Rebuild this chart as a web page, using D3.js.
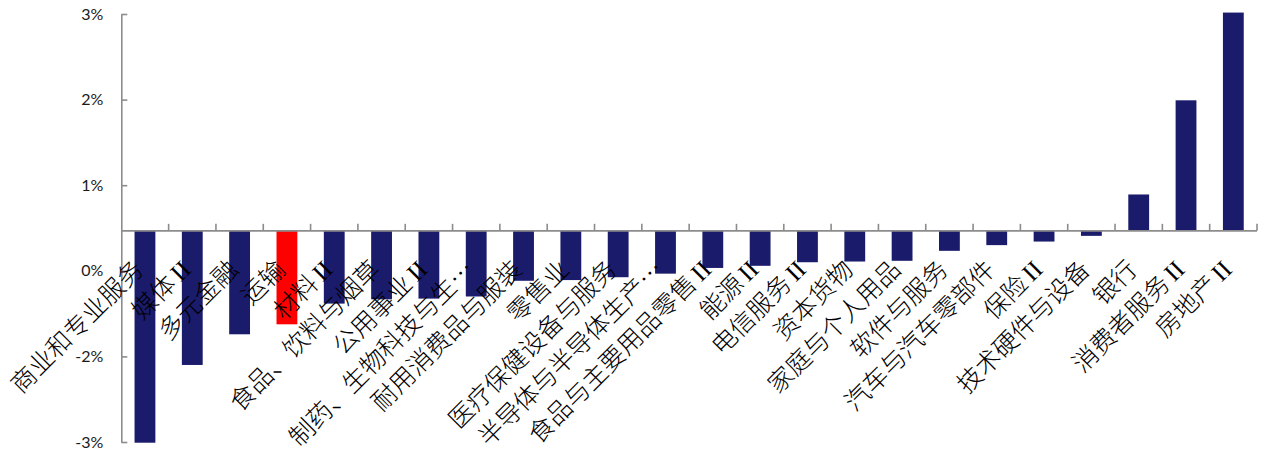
<!DOCTYPE html>
<html>
<head>
<meta charset="utf-8">
<script src="https://cdn.jsdelivr.net/npm/d3@7"></script>
<style>
  html, body { margin: 0; padding: 0; background: #fff; }
  svg { display: block; }
</style>
</head>
<body>
<svg id="chart" width="1265" height="456"></svg>
<script>
const categories = [
  "商业和专业服务", "媒体 II", "多元金融", "运输", "材料 II", "食品、饮料与烟草",
  "公用事业 II", "制药、生物科技与生…", "耐用消费品与服装", "零售业", "医疗保健设备与服务",
  "半导体与半导体生产…", "食品与主要用品零售 II", "能源 II", "电信服务 II", "资本货物",
  "家庭与个人用品", "软件与服务", "汽车与汽车零部件", "保险 II", "技术硬件与设备",
  "银行", "消费者服务 II", "房地产 II"
];
const values = [
  -2.97, -1.88, -1.45, -1.31, -1.02, -0.96,
  -0.95, -0.92, -0.70, -0.69, -0.65,
  -0.60, -0.52, -0.49, -0.44, -0.43,
  -0.42, -0.28, -0.20, -0.15, -0.07,
  0.51, 1.83, 3.06
];
const highlighted = ["运输"];
const yDomain = [-2.96, 3.04];
const yTickValues = [3.04, 1.84, 0.64, -0.56, -1.76, -2.96];
const yTickLabels = ["3%", "2%", "1%", "0%", "-2%", "-3%"];

(function () {
const svg = d3.select("#chart");
const pLeft = 121.3, pRight = 1257, pTop = 14, pBottom = 442;

const x = d3.scaleBand().domain(categories).range([pLeft, pRight])
  .paddingInner(0.56).paddingOuter(0.28);
const y = d3.scaleLinear().domain(yDomain).range([pBottom, pTop]);

const axisColor = "#8c8c8c";

// bars
svg.append("g").selectAll("rect").data(categories).join("rect")
  .attr("x", d => x(d))
  .attr("width", x.bandwidth())
  .attr("y", (d, i) => Math.min(y(values[i]), y(0)))
  .attr("height", (d, i) => Math.abs(y(values[i]) - y(0)))
  .attr("fill", d => highlighted.includes(d) ? "#ff0000" : "#1b1b6c");

// y axis
const yAxis = d3.axisLeft(y).tickValues(yTickValues)
  .tickFormat((d, i) => yTickLabels[i])
  .tickSizeInner(-6).tickSizeOuter(0).tickPadding(18);
const gy = svg.append("g").attr("transform", `translate(${pLeft},0)`).call(yAxis);
gy.select(".domain").attr("stroke", axisColor).attr("stroke-width", 1.6);
gy.selectAll(".tick line").attr("stroke", axisColor).attr("stroke-width", 1.6);
gy.selectAll(".tick text").attr("fill", "#1a1a1a")
  .style("font-family", "Lato, 'Open Sans', sans-serif").style("font-size", "16px");

// x axis (category axis at zero)
const y0 = y(0);
const gx = svg.append("g");
gx.append("line").attr("x1", pLeft).attr("x2", pRight).attr("y1", y0).attr("y2", y0)
  .attr("stroke", axisColor).attr("stroke-width", 1.6);
const bounds = d3.range(categories.length + 1).map(i => x.range()[0] + i * x.step());
gx.selectAll("line.tk").data(bounds.slice(1)).join("line").attr("class", "tk")
  .attr("x1", d => d).attr("x2", d => d).attr("y1", y0).attr("y2", y0 - 7)
  .attr("stroke", axisColor).attr("stroke-width", 1.6);

// category labels
const labels = svg.append("g").selectAll("text").data(categories).join("text")
  .attr("transform", d => `translate(${x(d) + x.bandwidth() / 2},271) rotate(-45)`)
  .attr("text-anchor", "end")
  .style("font-family", "'Noto Sans CJK SC', sans-serif")
  .style("font-size", "25px")
  .style("font-weight", "300")
  .attr("fill", "#000");
labels.each(function (d) {
  const t = d3.select(this);
  const parts = d.split(/( II)$/);
  t.append("tspan").text(parts[0]);
  if (parts.length > 1) {
    t.append("tspan").attr("dx", 4).style("font-family", "'Liberation Serif', serif").style("font-weight", "400").text("II");
  }
});
})();
</script>
</body>
</html>
